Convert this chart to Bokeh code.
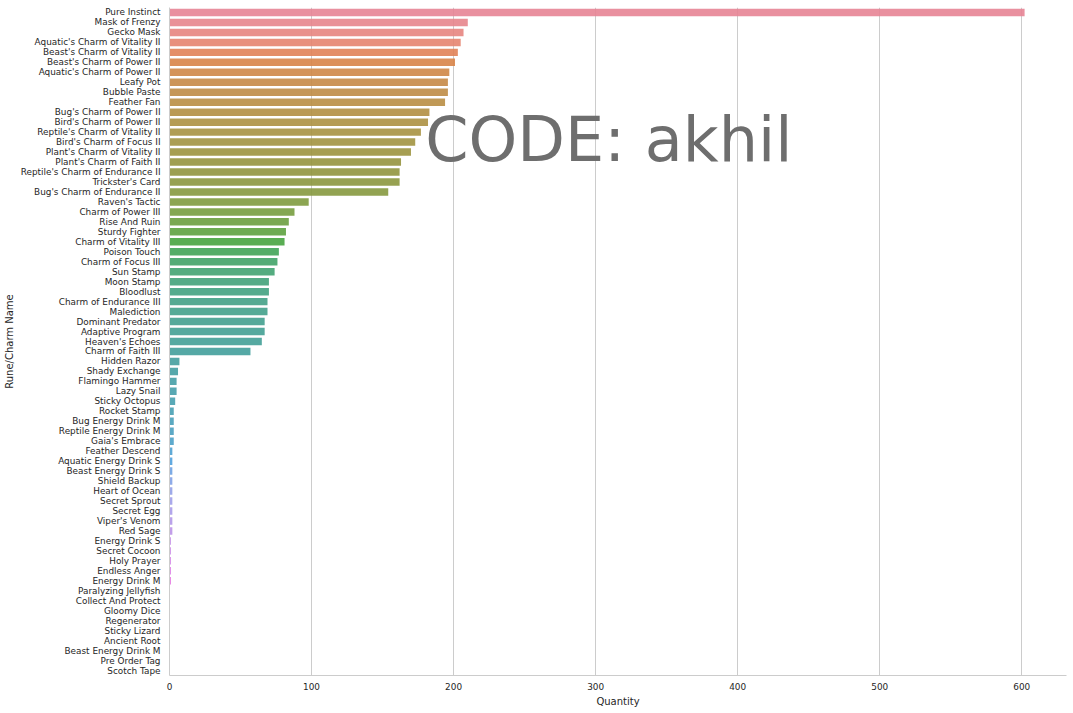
import colorsys
import math
from bokeh.embed import file_html
from bokeh.models import ColumnDataSource, FactorRange, FixedTicker, Label, Range1d
from bokeh.plotting import figure
from bokeh.resources import INLINE

names = ["Pure Instinct", "Mask of Frenzy", "Gecko Mask", "Aquatic's Charm of Vitality II",
         "Beast's Charm of Vitality II", "Beast's Charm of Power II", "Aquatic's Charm of Power II",
         "Leafy Pot", "Bubble Paste", "Feather Fan", "Bug's Charm of Power II",
         "Bird's Charm of Power II", "Reptile's Charm of Vitality II", "Bird's Charm of Focus II",
         "Plant's Charm of Vitality II", "Plant's Charm of Faith II",
         "Reptile's Charm of Endurance II", "Trickster's Card", "Bug's Charm of Endurance II",
         "Raven's Tactic", "Charm of Power III", "Rise And Ruin", "Sturdy Fighter",
         "Charm of Vitality III", "Poison Touch", "Charm of Focus III", "Sun Stamp", "Moon Stamp",
         "Bloodlust", "Charm of Endurance III", "Malediction", "Dominant Predator",
         "Adaptive Program", "Heaven's Echoes", "Charm of Faith III", "Hidden Razor",
         "Shady Exchange", "Flamingo Hammer", "Lazy Snail", "Sticky Octopus", "Rocket Stamp",
         "Bug Energy Drink M", "Reptile Energy Drink M", "Gaia's Embrace", "Feather Descend",
         "Aquatic Energy Drink S", "Beast Energy Drink S", "Shield Backup", "Heart of Ocean",
         "Secret Sprout", "Secret Egg", "Viper's Venom", "Red Sage", "Energy Drink S",
         "Secret Cocoon", "Holy Prayer", "Endless Anger", "Energy Drink M",
         "Paralyzing Jellyfish", "Collect And Protect", "Gloomy Dice", "Regenerator",
         "Sticky Lizard", "Ancient Root", "Beast Energy Drink M", "Pre Order Tag", "Scotch Tape"]

quantity = [602, 210, 207, 205, 203, 201, 197, 196, 196, 194, 183, 182, 177, 173, 170, 163, 162,
            162, 154, 98, 88, 84, 82, 81, 77, 76, 74, 70, 70, 69, 69, 67, 67, 65, 57, 7, 6, 5, 5,
            4, 3, 3, 3, 3, 2, 2, 2, 2, 2, 2, 2, 2, 2, 1, 1, 1, 1, 1,
            0.3, 0.3, 0.3, 0.3, 0.3, 0.3, 0.3, 0.3, 0.3]

x_ticks = [0, 100, 200, 300, 400, 500, 600]


# seaborn's default husl palette, desaturated the way its barplot does it
M = [[3.2406, -1.5372, -0.4986], [-0.9689, 1.8758, 0.0415], [0.0557, -0.2040, 1.0570]]


def max_chroma(L, H):
    hrad = math.radians(H)
    sin_h, cos_h = math.sin(hrad), math.cos(hrad)
    sub1 = (L + 16) ** 3 / 1560896.0
    sub2 = sub1 if sub1 > 0.008856 else L / 903.3
    result = float("inf")
    for m1, m2, m3 in M:
        top = (0.99915 * m1 + 1.05122 * m2 + 1.14460 * m3) * sub2
        rbottom = 0.86330 * m3 - 0.17266 * m2
        lbottom = 0.12949 * m3 - 0.38848 * m1
        bottom = (rbottom * sin_h + lbottom * cos_h) * sub2
        for t in (0.0, 1.0):
            c = L * (top - 1.05122 * t) / (bottom + 0.17266 * sin_h * t)
            if 0 < c < result:
                result = c
    return result


def husl_rgb(h, s, l):
    c = max_chroma(l, h) * s / 100.0
    u, v = math.cos(math.radians(h)) * c, math.sin(math.radians(h)) * c
    var_u = u / (13 * l) + 0.19784
    var_v = v / (13 * l) + 0.46834
    t = (l + 16) / 116.0
    y = t ** 3 if t ** 3 > 0.008856 else (116 * t - 16) / 903.3
    x = -(9 * y * var_u) / ((var_u - 4) * var_v - var_u * var_v)
    z = (9 * y - 15 * var_v * y - var_v * x) / (3 * var_v)
    out = []
    for row in M:
        lin = row[0] * x + row[1] * y + row[2] * z
        lin = 12.92 * lin if lin <= 0.0031308 else 1.055 * lin ** (1 / 2.4) - 0.055
        out.append(min(max(lin, 0.0), 1.0))
    return out


def bar_color(i, n):
    r, g, b = husl_rgb(((0.01 + i / n) % 1) * 359, 90, 65)
    h, l, s = colorsys.rgb_to_hls(r, g, b)
    r, g, b = colorsys.hls_to_rgb(h, l, s * 0.75)
    return "#%02x%02x%02x" % (round(r * 255), round(g * 255), round(b * 255))


colors = [bar_color(i, len(names)) for i in range(len(names))]
source = ColumnDataSource(data=dict(name=names, quantity=quantity, color=colors))

p = figure(width=1067, height=712, output_backend="svg", toolbar_location=None,
           y_range=FactorRange(factors=names[::-1], range_padding=0, factor_padding=0,
                               group_padding=0, subgroup_padding=0),
           x_range=Range1d(0, 631.5),
           min_border_left=169, min_border_right=1, min_border_top=7, min_border_bottom=37,
           x_axis_label="Quantity", y_axis_label="Rune/Charm Name")

p.hbar(y="name", right="quantity", left=0, height=0.75, fill_color="color", fill_alpha=0.9,
       line_color=None, source=source)

p.outline_line_color = None
p.ygrid.grid_line_color = None
p.xgrid.grid_line_color = "#cccccc"
p.xgrid.ticker = FixedTicker(ticks=x_ticks)
p.xaxis.ticker = FixedTicker(ticks=x_ticks)

for ax in (p.xaxis[0], p.yaxis[0]):
    ax.axis_line_color = "#cccccc"
    ax.major_tick_line_color = None
    ax.major_tick_out = 0
    ax.major_tick_in = 0
    ax.minor_tick_line_color = None
    ax.major_label_text_color = "#262626"
    ax.major_label_text_font = "DejaVu Sans"
    ax.major_label_text_font_size = "8.9px"
    ax.axis_label_text_color = "#262626"
    ax.axis_label_text_font = "DejaVu Sans"
    ax.axis_label_text_font_size = "10px"
    ax.axis_label_text_font_style = "normal"

p.yaxis.major_label_standoff = 9
p.xaxis.major_label_standoff = 7
p.yaxis.axis_label_standoff = 3
p.xaxis.axis_label_standoff = 3

# watermark sits on top of the bars
p.add_layout(Label(x=180, y=536, x_units="data", y_units="screen", text="CODE: akhil",
                   text_font="DejaVu Sans", text_font_size="62px", text_color="#6e6e6e",
                   text_baseline="middle"))

open("out.html", "w").write(file_html(p, INLINE))
